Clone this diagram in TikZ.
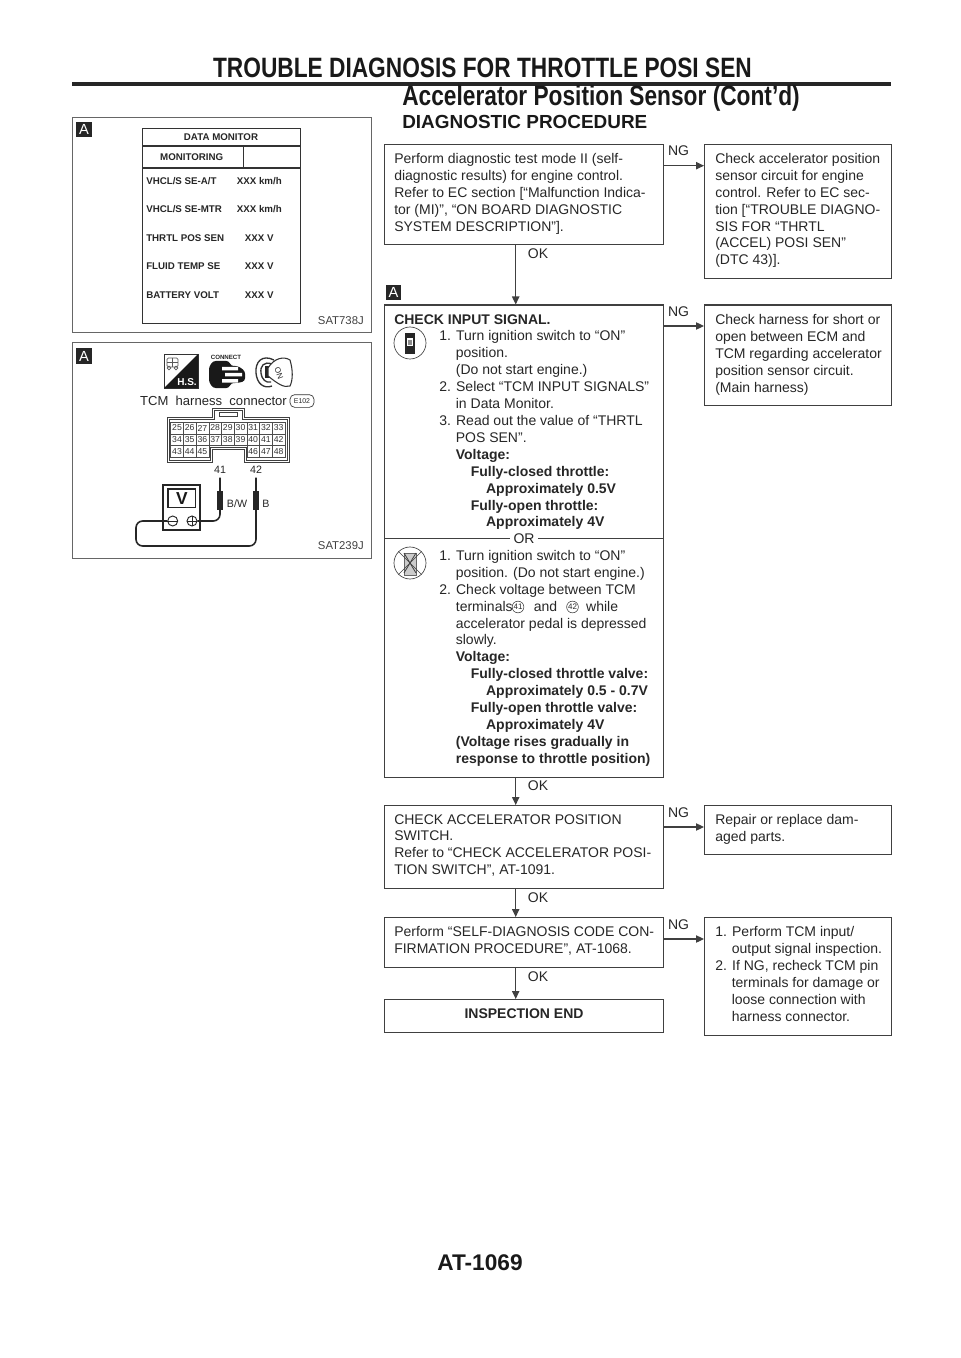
\documentclass[tikz,border=0pt]{standalone}
\usepackage{fontspec}
\setmainfont{Liberation Sans}
\usetikzlibrary{arrows.meta}

\tikzset{
  flowbox/.style={draw=black!75, line width=0.8pt, anchor=north west, inner sep=0pt},
  boxsize/.style 2 args={minimum width=#1*0.75pt, minimum height=#2*0.75pt},
  flowtext/.style={anchor=north west, inner sep=0pt, align=left, text=black!85,
    font=\fontsize{10.5}{12.68}\selectfont},
  flowarrow/.style={draw=black!75, line width=0.8pt, -{Triangle[length=6pt, width=5.5pt]}},
  flowtag/.style={inner sep=0pt, text=black!85, font=\fontsize{10.5}{12.68}\selectfont},
  iconA/.style={fill=black!85, text=white, minimum size=11.5pt, inner sep=0pt,
    font=\fontsize{11}{11}\selectfont},
  panel/.style={draw=black!60, line width=0.7pt, anchor=north west, inner sep=0pt},
  figcode/.style={anchor=east, inner sep=0pt, text=black!75, font=\fontsize{8.5}{9}\selectfont},
  monitortext/.style={inner sep=0pt, text=black!85, font=\fontsize{7.3}{8}\selectfont\bfseries},
  pincell/.style={draw=black!70, line width=0.3pt, minimum width=9.5pt, minimum height=8.8pt,
    inner sep=0pt, text=black!80, font=\fontsize{6.5}{7}\selectfont},
  probe/.style={line width=4.2pt, black!85},
  probewire/.style={line width=1.2pt, black!85, rounded corners=5pt},
  termno/.style={draw=black!80, circle, minimum size=8.8pt, inner sep=0pt, text=black!85,
    font=\fontsize{6}{6}\selectfont},
  modeicon/.style={draw=black!75, line width=0.5pt, circle, minimum size=24pt, inner sep=0pt},
  headtext/.style={inner sep=0pt, text=black!90, font=\fontsize{21}{23}\selectfont\bfseries},
}

\newcommand{\stepin}{\hspace*{33.75pt}}
\newcommand{\hangin}{\hspace*{46.2pt}}
\newcommand{\voltin}{\hspace*{57.4pt}}
\newcommand{\apprin}{\hspace*{68.9pt}}

\begin{document}
\begin{tikzpicture}[x=0.75pt, y=-0.75pt]
\useasboundingbox (0,0) rectangle (960,1358);

% ---- Page heading ----
\node[headtext, anchor=east, xscale=0.811, transform shape] (title) at (752,68)
  {TROUBLE DIAGNOSIS FOR THROTTLE POSI SEN};
\fill[black!85] (72,82) rectangle (891,86);
\node[headtext, anchor=east, xscale=0.811, transform shape] (subtitle) at (800,98)
  {Accelerator Position Sensor (Cont’d)};
\node[headtext, anchor=west, font=\fontsize{14.2}{16}\selectfont\bfseries] (heading) at (402,122)
  {DIAGNOSTIC PROCEDURE};
\node[headtext, font=\fontsize{17}{20}\selectfont\bfseries] (pageno) at (480,1263) {AT-1069};

% ---- Data monitor panel ----
\node[panel, boxsize={299}{215}] (panelone) at (72,117) {};
\node[iconA] (iconone) at (84,129.5) {A};
\node[panel, draw=black!80, line width=1.1pt, boxsize={158}{195}] (monitor) at (142,128) {};
\draw[black!80, line width=0.8pt] (142,146) -- (300,146);
\draw[black!80, line width=0.8pt] (142,168) -- (300,168);
\draw[black!80, line width=0.8pt] (243.7,146) -- (243.7,168);
\node[monitortext] (datamon) at (221,137) {DATA MONITOR};
\node[monitortext] (monitoring) at (191.7,157) {MONITORING};
\foreach \sig/\val/\y in {
  {VHCL/S SE-A/T}/{XXX km/h}/180.7,
  {VHCL/S SE-MTR}/{XXX km/h}/209.3,
  {THRTL POS SEN}/{XXX V}/237.7,
  {FLUID TEMP SE}/{XXX V}/266.3,
  {BATTERY VOLT}/{XXX V}/294.7
} {
  \node[monitortext, anchor=west] at (146,\y) {\sig};
  \node[monitortext] at (259.3,\y) {\val};
}
\node[figcode] (codeone) at (364,321) {SAT738J};

% ---- Harness panel ----
\node[panel, boxsize={299}{215}] (paneltwo) at (72,342.5) {};
\node[iconA] (icontwo) at (84,356) {A};

% H.S. icon
\draw[black!80, line width=0.5pt] (164,354) rectangle (198,388);
\fill[black!90] (198,354) -- (198,388) -- (164,388) -- cycle;
\node[inner sep=0pt, text=white, font=\fontsize{7.5}{8}\selectfont\bfseries] (hsmark) at (187,382) {H.S.};
\draw[black!65, line width=0.6pt, rounded corners=1pt] (167,358) rectangle (178,367);
\draw[black!65, line width=0.5pt] (172.5,358) -- (172.5,367) (167,362.5) -- (178,362.5);
\draw[black!65, line width=0.5pt] (169,368) circle (1.8) (176,368) circle (1.8);

% connector icon
\node[inner sep=0pt, text=black!85, font=\fontsize{4.6}{5}\selectfont\bfseries] (connecttext) at (226,357) {CONNECT};
\fill[black!90, rounded corners=2pt] (209,367) -- (213,361) -- (229,361) -- (231,366) -- (238,366)
  -- (245,371) -- (245,381) -- (238,383) -- (231,383) -- (229,388) -- (213,388) -- (209,382) -- cycle;
\fill[white] (222,367) rectangle (238,370.5) (225,373) rectangle (242,376.5) (222,379) rectangle (238,382.5);

% key icon
\draw[black!80, line width=1pt] (274,360) .. controls (262,354) and (255,362) .. (256,373)
  .. controls (257,384) and (264,389) .. (272,386);
\draw[black!80, line width=1pt] (272,364) .. controls (264,361) and (260,366) .. (261,373)
  .. controls (262,380) and (266,383) .. (271,382);
\fill[black!85] (265,366) rectangle (270,378);
\draw[black!80, line width=0.8pt, fill=white] (268,368) .. controls (274,358) and (284,356) .. (290,360)
  .. controls (293,370) and (293,380) .. (290,386) .. controls (284,388) and (278,384) .. (268,376) -- cycle;
\node[inner sep=0pt, rotate=-70, text=black!85, font=\fontsize{6}{6}\selectfont] (keyon) at (279,373) {ON};

% harness connector
\node[inner sep=0pt, text=black!85, font=\fontsize{9.8}{11}\selectfont] (tcmtext) at (213.5,400.5) {TCM\ \ harness\ \ connector};
\node[draw=black!80, line width=0.5pt, rounded corners=3.5pt, minimum width=18pt, minimum height=9.5pt,
  inner sep=0pt, text=black!85, font=\fontsize{5.2}{6}\selectfont] (connid) at (302,401) {E102};
\draw[black!75, line width=0.6pt] (167,417) -- (212,417) -- (212,408) -- (244,408) -- (244,417)
  -- (289,417) -- (289,462) -- (244,462) -- (244,449) -- (212,449) -- (212,462) -- (167,462) -- cycle;
\draw[black!75, line width=0.4pt] (169,419) -- (214,419) -- (214,410) -- (242,410) -- (242,419)
  -- (287,419) -- (287,460) -- (246,460) -- (246,447) -- (210,447) -- (210,460) -- (169,460) -- cycle;
\draw[black!75, line width=0.4pt] (219,412) rectangle (237,416);
\foreach \pin [count=\i from 0] in {25,...,33} {
  \node[pincell] (pin\pin) at (177+\i*12.7,428) {\pin};
}
\foreach \pin [count=\i from 0] in {34,...,42} {
  \node[pincell] (pin\pin) at (177+\i*12.7,439.7) {\pin};
}
\foreach \pin/\i in {43/0,44/1,45/2,46/6,47/7,48/8} {
  \node[pincell] (pin\pin) at (177+\i*12.7,451.5) {\pin};
}

% tester and probes
\node[inner sep=0pt, text=black!85, font=\fontsize{8}{8}\selectfont] (lab41) at (220,470) {41};
\node[inner sep=0pt, text=black!85, font=\fontsize{8}{8}\selectfont] (lab42) at (256,470) {42};
\draw[black!85, line width=1.1pt] (163,485) rectangle (200,530);
\draw[black!85, line width=1.1pt] (168,489) rectangle (195.7,507.7);
\node[inner sep=0pt, text=black!90, font=\fontsize{13}{13}\selectfont\bfseries] (meterv) at (182,498.5) {V};
\node[draw=black!85, line width=0.7pt, circle, minimum size=7.5pt, inner sep=0pt] (minus) at (172.7,521) {};
\node[draw=black!85, line width=0.7pt, circle, minimum size=7.5pt, inner sep=0pt] (plus) at (192,521) {};
\draw[black!85, line width=0.6pt] (minus.west) -- (minus.east) (plus.west) -- (plus.east) (plus.north) -- (plus.south);
\coordinate (tip41) at (220,477.5);
\coordinate (tip42) at (256,477.5);
\draw[probewire] (tip41) -- (220,521) -- (plus.east);
\draw[probewire] (tip42) -- (256,546) -- (136,546) -- (136,521) -- (minus.west);
\draw[probe] (220,491) -- (220,510);
\draw[probe] (256,491) -- (256,510);
\node[inner sep=0pt, text=black!85, font=\fontsize{8}{8}\selectfont] (labbw) at (237,504) {B/W};
\node[inner sep=0pt, text=black!85, font=\fontsize{8}{8}\selectfont] (labb) at (266,504) {B};
\node[figcode] (codetwo) at (364,546) {SAT239J};

% ---- Flow boxes, left column ----
\node[flowbox, boxsize={279}{100}] (stepone) at (384,144) {};
\node[flowbox, boxsize={279}{472}] (steptwo) at (384,304.5) {};
\node[flowbox, boxsize={279}{83}] (stepthree) at (384,805) {};
\node[flowbox, boxsize={279}{50}] (stepfour) at (384,917) {};
\node[flowbox, boxsize={279}{33}] (stepend) at (384,999) {};
\node[inner sep=0pt, yshift=1.5pt, text=black!85, font=\fontsize{10.5}{12.68}\selectfont\bfseries] (endtext) at (stepend.center) {INSPECTION END};

% ---- Flow boxes, right column ----
\node[flowbox, boxsize={187}{134}] (ngone) at (704,144) {};
\node[flowbox, boxsize={187}{100}] (ngtwo) at (704,304.5) {};
\node[flowbox, boxsize={187}{49}] (ngthree) at (704,805) {};
\node[flowbox, boxsize={187}{118}] (ngfour) at (704,917) {};

% ---- Box texts ----
\node[flowtext] (stepone-t) at (394,153) {Perform diagnostic test mode II (self-\\
  diagnostic results) for engine control.\\
  Refer to EC section [“Malfunction Indica-\\
  tor (MI)”, “ON BOARD DIAGNOSTIC\\
  SYSTEM DESCRIPTION”].};

\node[flowtext] (steptwo-a) at (394,314) {\textbf{CHECK INPUT SIGNAL.}\\
  \stepin 1. Turn ignition switch to “ON”\\
  \hangin position.\\
  \hangin (Do not start engine.)\\
  \stepin 2. Select “TCM INPUT SIGNALS”\\
  \hangin in Data Monitor.\\
  \stepin 3. Read out the value of “THRTL\\
  \hangin POS SEN”.\\
  \hangin \textbf{Voltage:}\\
  \voltin \textbf{Fully-closed throttle:}\\
  \apprin \textbf{Approximately 0.5V}\\
  \voltin \textbf{Fully-open throttle:}\\
  \apprin \textbf{Approximately 4V}};

\node[flowtext] (steptwo-b) at (394,550) {\stepin 1. Turn ignition switch to “ON”\\
  \hangin position. (Do not start engine.)\\
  \stepin 2. Check voltage between TCM\\
  \hangin terminals \hspace{10pt} and \hspace{16pt} while\\
  \hangin accelerator pedal is depressed\\
  \hangin slowly.\\
  \hangin \textbf{Voltage:}\\
  \voltin \textbf{Fully-closed throttle valve:}\\
  \apprin \textbf{Approximately 0.5 - 0.7V}\\
  \voltin \textbf{Fully-open throttle valve:}\\
  \apprin \textbf{Approximately 4V}\\
  \hangin \textbf{(Voltage rises gradually in}\\
  \hangin \textbf{response to throttle position)}};
\node[termno] (term41) at (518,607) {41};
\node[termno] (term42) at (572.5,607) {42};

\node[flowtext] (stepthree-t) at (394,814) {CHECK ACCELERATOR POSITION\\
  SWITCH.\\
  Refer to “CHECK ACCELERATOR POSI-\\
  TION SWITCH”, AT-1091.};
\node[flowtext] (stepfour-t) at (394,926) {Perform “SELF-DIAGNOSIS CODE CON-\\
  FIRMATION PROCEDURE”, AT-1068.};

\node[flowtext] (ngone-t) at (715,153) {Check accelerator position\\
  sensor circuit for engine\\
  control. Refer to EC sec-\\
  tion [“TROUBLE DIAGNO-\\
  SIS FOR “THRTL\\
  (ACCEL) POSI SEN”\\
  (DTC 43)].};
\node[flowtext] (ngtwo-t) at (715,314) {Check harness for short or\\
  open between ECM and\\
  TCM regarding accelerator\\
  position sensor circuit.\\
  (Main harness)};
\node[flowtext] (ngthree-t) at (715,814) {Repair or replace dam-\\
  aged parts.};
\node[flowtext] (ngfour-t) at (715,926.5) {1. Perform TCM input/\\
  \hspace*{12.4pt}output signal inspection.\\
  2. If NG, recheck TCM pin\\
  \hspace*{12.4pt}terminals for damage or\\
  \hspace*{12.4pt}loose connection with\\
  \hspace*{12.4pt}harness connector.};

% ---- OR divider and mode icons ----
\coordinate (orleft) at (steptwo.west |- 0,538.7);
\coordinate (orright) at (steptwo.east |- 0,538.7);
\draw[draw=black!75, line width=0.8pt] (orleft) -- (orright);
\node[flowtag, fill=white, inner sep=2.5pt] (ortext) at (524,538.7) {OR};
\node[modeicon] (iconon) at (410,343) {};
\fill[black!85] (405,333) rectangle (415,354);
\fill[white] (407,338) rectangle (413,346);
\fill[black!45] (408,340) rectangle (412,345);
\node[modeicon] (iconoff) at (410,563) {};
\draw[black!60, fill=black!20, line width=0.5pt] (404,553) rectangle (416,575);
\draw[black!75, line width=0.6pt] (404,553) -- (416,573) (416,553) -- (404,573);
\draw[black!75, line width=0.5pt] (iconoff.north west) -- (iconoff.south east);
\draw[black!75, line width=0.5pt] (iconoff.north east) -- (iconoff.south west);

% ---- Connectors ----
\coordinate (flowx) at (515.7,0);
\draw[flowarrow] (stepone.south -| flowx) -- (steptwo.north -| flowx);
\draw[flowarrow] (steptwo.south -| flowx) -- (stepthree.north -| flowx);
\draw[flowarrow] (stepthree.south -| flowx) -- (stepfour.north -| flowx);
\draw[flowarrow] (stepfour.south -| flowx) -- (stepend.north -| flowx);

\foreach \from/\to/\y in {stepone/ngone/165.7, steptwo/ngtwo/326, stepthree/ngthree/827, stepfour/ngfour/939} {
  \draw[flowarrow] (\from.east |- 0,\y) -- (\to.west |- 0,\y);
}

\node[iconA] (icontag) at (393.5,292.5) {A};

% ---- OK / NG tags ----
\foreach \y in {254,786,898,977} {
  \node[flowtag] at (538,\y) {OK};
}
\foreach \y in {151,312,813,925} {
  \node[flowtag] at (678.5,\y) {NG};
}

\end{tikzpicture}
\end{document}
